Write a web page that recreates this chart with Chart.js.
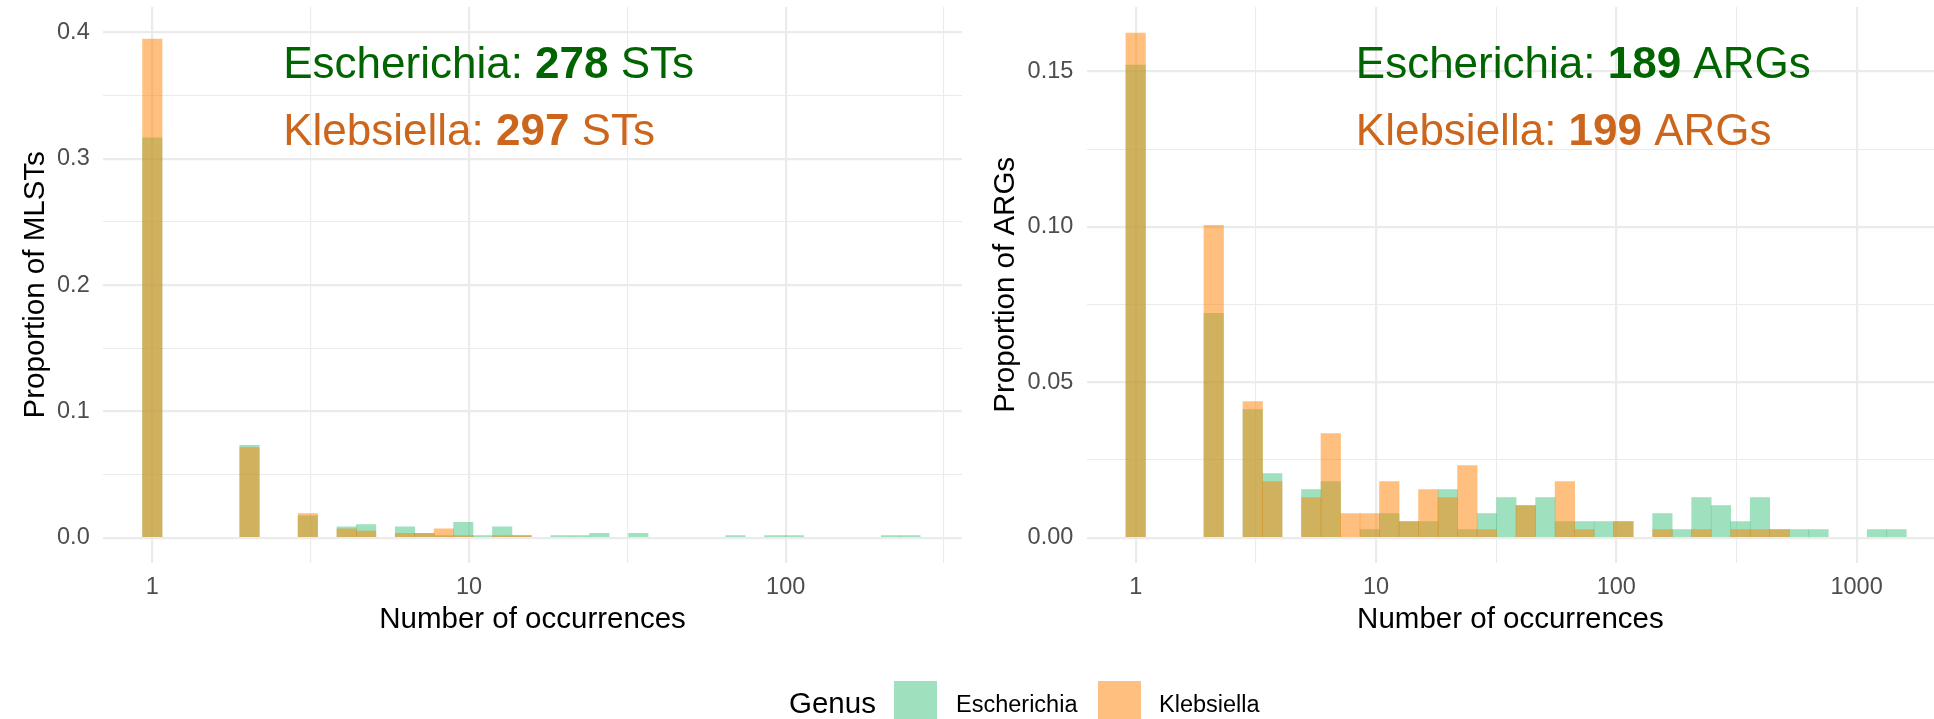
<!DOCTYPE html>
<html>
<head>
<meta charset="utf-8">
<script src="https://cdn.jsdelivr.net/npm/chart.js@4.4.1/dist/chart.umd.min.js"></script>
<style>
  html, body { margin: 0; padding: 0; background: #ffffff; width: 1934px; height: 719px; overflow: hidden; }
  #wrap { position: relative; width: 1934px; height: 719px; font-family: "Liberation Sans", Arial, sans-serif; }
  canvas { position: absolute; top: 0; }
  #stChart { left: 0; }
  #argChart { left: 970px; }
  .lg-text { position: absolute; color: #000; white-space: nowrap; }
  .lg-key { position: absolute; width: 43px; height: 43px; }
</style>
</head>
<body>
<div id="wrap">
  <canvas id="stChart" width="970" height="719"></canvas>
  <canvas id="argChart" width="964" height="719"></canvas>
  <div class="lg-text" style="left:789px; top:686px; font-size:29.5px; line-height:34px;">Genus</div>
  <div class="lg-key" style="left:894px; top:681px; background:rgba(64,196,125,0.5);"></div>
  <div class="lg-text" style="left:956px; top:690px; font-size:23.5px; line-height:28px;">Escherichia</div>
  <div class="lg-key" style="left:1098px; top:681px; background:rgba(255,130,0,0.5);"></div>
  <div class="lg-text" style="left:1159px; top:690px; font-size:23.5px; line-height:28px;">Klebsiella</div>
</div>
<script>
// Histogram bins are equal-width in log10(occurrences); bin i is centred at i * binWidth.
const stBinWidth = 0.06138;
const argBinWidth = 0.08118;

// Proportion of MLSTs per bin (40 bins)
const stEscherichia = [
  0.31652, 0, 0, 0, 0, 0.07304, 0, 0, 0.01739, 0,
  0.00870, 0.01043, 0, 0.00870, 0.00348, 0.00174, 0.01217, 0.00174, 0.00870, 0.00174,
  0, 0.00174, 0.00174, 0.00348, 0, 0.00348, 0, 0, 0, 0,
  0.00174, 0, 0.00174, 0.00174, 0, 0, 0, 0, 0.00174, 0.00174
];
const stKlebsiella = [
  0.39478, 0, 0, 0, 0, 0.07130, 0, 0, 0.01913, 0,
  0.00696, 0.00522, 0, 0.00348, 0.00348, 0.00696, 0.00174, 0, 0.00174, 0.00174,
  0, 0, 0, 0, 0, 0, 0, 0, 0, 0,
  0, 0, 0, 0, 0, 0, 0, 0, 0, 0
];

// Proportion of ARGs per bin (40 bins)
const argEscherichia = [
  0.15206, 0, 0, 0, 0.07216, 0, 0.04124, 0.02062, 0, 0.01546,
  0.01804, 0, 0.00258, 0.00773, 0.00515, 0.00515, 0.01546, 0.00258, 0.00773, 0.01289,
  0.01031, 0.01289, 0.00515, 0.00515, 0.00515, 0.00515, 0, 0.00773, 0.00258, 0.01289,
  0.01031, 0.00515, 0.01289, 0.00258, 0.00258, 0.00258, 0, 0, 0.00258, 0.00258
];
const argKlebsiella = [
  0.16237, 0, 0, 0, 0.10052, 0, 0.04381, 0.01804, 0, 0.01289,
  0.03351, 0.00773, 0.00773, 0.01804, 0.00515, 0.01546, 0.01289, 0.02320, 0.00258, 0,
  0.01031, 0, 0.01804, 0.00258, 0, 0.00515, 0, 0.00258, 0, 0.00258,
  0, 0.00258, 0.00258, 0.00258, 0, 0, 0, 0, 0, 0
];

// Axis ticks: x in log10 units (majors labelled 1, 10, ...), y in proportion
const stXTicks = [0, 0.5, 1, 1.5, 2, 2.5];
const argXTicks = [0, 0.5, 1, 1.5, 2, 2.5, 3];
const stYTicks = [0, 0.05, 0.1, 0.15, 0.2, 0.25, 0.3, 0.35, 0.4];
const stYLabels = ['0.0', '', '0.1', '', '0.2', '', '0.3', '', '0.4'];
const argYTicks = [0, 0.025, 0.05, 0.075, 0.1, 0.125, 0.15];
const argYLabels = ['0.00', '', '0.05', '', '0.10', '', '0.15'];

// Count annotations: [occurrences, proportion] anchor of the text baseline
const stNotes = [
  { at: [2.59, 0.3637], color: '#006400', parts: ['Escherichia: ', '278', ' STs'] },
  { at: [2.59, 0.3110], color: '#CD661D', parts: ['Klebsiella: ', '297', ' STs'] }
];
const argNotes = [
  { at: [8.24, 0.1478], color: '#006400', parts: ['Escherichia: ', '189', ' ARGs'] },
  { at: [8.24, 0.1264], color: '#CD661D', parts: ['Klebsiella: ', '199', ' ARGs'] }
];

const FONT = '"Liberation Sans", Arial, sans-serif';
Chart.defaults.font.family = FONT;
Chart.defaults.color = '#4d4d4d';

const GREEN = 'rgba(64,196,125,0.5)';
const ORANGE = 'rgba(255,130,0,0.5)';
const GRID = '#ebebeb';

const notesPlugin = {
  id: 'countNotes',
  afterDatasetsDraw(chart, args, opts) {
    const ctx = chart.ctx;
    const xs = chart.scales.x, ys = chart.scales.y;
    ctx.save();
    ctx.textBaseline = 'alphabetic';
    ctx.textAlign = 'left';
    for (const n of opts.notes) {
      let x = xs.getPixelForValue(Math.log10(n.at[0]));
      const y = ys.getPixelForValue(n.at[1]);
      ctx.fillStyle = n.color;
      n.parts.forEach((p, i) => {
        ctx.font = (i === 1 ? 'bold ' : '') + '44px ' + FONT;
        ctx.fillText(p, x, y);
        x += ctx.measureText(p).width;
      });
    }
    ctx.restore();
  }
};

function isMajor(v, step) {
  const r = v / step;
  return Math.abs(r - Math.round(r)) < 1e-6;
}

function buildPanel(id, cfg) {
  const centers = cfg.e.map((_, i) => i * cfg.binWidth);
  // empty bins stay in the data (they set the bar width) but are not drawn
  const toPoints = arr => arr.map((v, i) => ({ x: centers[i], y: v > 0 ? v : null }));
  return new Chart(document.getElementById(id), {
    type: 'bar',
    data: {
      datasets: [
        { label: 'Klebsiella', data: toPoints(cfg.k), backgroundColor: ORANGE, order: 0,
          borderWidth: 0, barPercentage: 1, categoryPercentage: 1, grouped: false },
        { label: 'Escherichia', data: toPoints(cfg.e), backgroundColor: GREEN, order: 1,
          borderWidth: 0, barPercentage: 1, categoryPercentage: 1, grouped: false }
      ]
    },
    options: {
      responsive: false,
      animation: false,
      devicePixelRatio: 1,
      layout: { padding: { left: 0, right: cfg.padRight, top: 7, bottom: 0 } },
      plugins: {
        legend: { display: false },
        tooltip: { enabled: false },
        countNotes: { notes: cfg.notes }
      },
      scales: {
        x: {
          type: 'linear',
          min: cfg.xMin, max: cfg.xMax,
          offset: false,
          border: { display: false },
          grid: {
            offset: false, drawTicks: false, color: GRID,
            lineWidth: c => isMajor(c.tick.value, 1) ? 2.2 : 1.1
          },
          afterBuildTicks: s => { s.ticks = cfg.xTicks.map(v => ({ value: v })); },
          ticks: {
            autoSkip: false, maxRotation: 0, padding: 11, color: '#4d4d4d',
            font: { size: 23.5 },
            callback: v => isMajor(v, 1) ? String(Math.round(Math.pow(10, v))) : ''
          },
          title: {
            display: true, text: 'Number of occurrences', color: '#000000',
            font: { size: 29.5 }, padding: { top: 0, bottom: 81.5 }
          },
          afterFit: s => {
            s.height = 719 - 562.6;
            s.paddingLeft = 0; s.paddingRight = 0;
          }
        },
        y: {
          type: 'linear',
          min: cfg.yMin, max: cfg.yMax,
          border: { display: false },
          grid: {
            drawTicks: false, color: GRID,
            lineWidth: c => cfg.yLabels[c.index] ? 2.2 : 1.1
          },
          afterBuildTicks: s => { s.ticks = cfg.yTicks.map(v => ({ value: v })); },
          ticks: {
            autoSkip: false, padding: cfg.yTickPad, color: '#4d4d4d',
            font: { size: 23.5 },
            callback: (v, i) => cfg.yLabels[i]
          },
          title: {
            display: true, text: cfg.yTitle, color: '#000000',
            font: { size: 29.5 }, padding: { top: cfg.yTitlePad, bottom: 0 }
          },
          afterFit: s => {
            s.width = cfg.yWidth;
            s.paddingTop = 0; s.paddingBottom = 0;
          }
        }
      }
    },
    plugins: [notesPlugin]
  });
}

buildPanel('stChart', {
  binWidth: stBinWidth, e: stEscherichia, k: stKlebsiella,
  xMin: -0.1557, xMax: 2.5567, xTicks: stXTicks,
  yMin: -0.01972, yMax: 0.4202, yTicks: stYTicks, yLabels: stYLabels,
  yTitle: 'Proportion of MLSTs', yWidth: 103, yTickPad: 13.3, yTitlePad: 18,
  padRight: 8, notes: stNotes
});

buildPanel('argChart', {
  binWidth: argBinWidth, e: argEscherichia, k: argKlebsiella,
  xMin: -0.2035, xMax: 3.322, xTicks: argXTicks,
  yMin: -0.00801, yMax: 0.17075, yTicks: argYTicks, yLabels: argYLabels,
  yTitle: 'Proportion of ARGs', yWidth: 116.8, yTickPad: 13.5, yTitlePad: 18,
  padRight: 0, notes: argNotes
});
</script>
</body>
</html>
